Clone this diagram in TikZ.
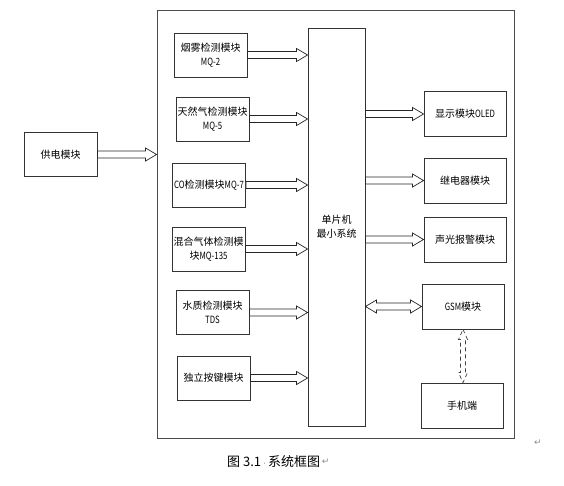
\documentclass[tikz,border=0pt]{standalone}
\usepackage{fontspec}
\newfontfamily\cjk{Noto Sans CJK SC}
\newfontfamily\cjknarrow[FakeStretch=0.78]{Noto Sans CJK SC}
\newfontfamily\markfont{DejaVu Sans}
\newcommand{\nar}[1]{{\cjknarrow #1}}
\usetikzlibrary{calc}

\begin{document}
\begin{tikzpicture}[x=1pt, y=-1pt,
    modul/.style    = {rectangle, draw=black!80, fill=white, line width=0.9pt, inner sep=0pt,
                       minimum width=73, minimum height=44, align=center,
                       font=\cjk\fontsize{10}{14}\selectfont},
    ausgabe/.style  = {modul, minimum width=82, minimum height=45},
    mcu/.style      = {modul, minimum width=57, minimum height=398},
    rahmen/.style   = {rectangle, draw=black!70, line width=0.9pt, inner sep=0pt,
                       minimum width=357, minimum height=428},
    blockpfeil/.style = {draw=black!85, fill=white, line width=0.7pt, to path={
        let \p1=(\tikztostart), \p2=(\tikztotarget) in
        (\x1,\y1+3.5pt) -- (\x2-11pt,\y1+3.5pt) -- (\x2-11pt,\y1+6.5pt) -- (\x2,\y1)
        -- (\x2-11pt,\y1-6.5pt) -- (\x2-11pt,\y1-3.5pt) -- (\x1,\y1-3.5pt) -- cycle}},
    doppelpfeil/.style = {draw=black!85, fill=white, line width=0.7pt, to path={
        let \p1=(\tikztostart), \p2=(\tikztotarget) in
        (\x1,\y1) -- (\x1+11pt,\y1+6.5pt) -- (\x1+11pt,\y1+3.5pt) -- (\x2-11pt,\y1+3.5pt)
        -- (\x2-11pt,\y1+6.5pt) -- (\x2,\y1) -- (\x2-11pt,\y1-6.5pt) -- (\x2-11pt,\y1-3.5pt)
        -- (\x1+11pt,\y1-3.5pt) -- (\x1+11pt,\y1-6.5pt) -- cycle}},
    funkpfeil/.style = {draw=black!75, line width=0.7pt, dash pattern=on 4pt off 3pt, to path={
        let \p1=(\tikztostart), \p2=(\tikztotarget) in
        (\x1,\y1) -- (\x1+4.5pt,\y1-10pt) -- (\x1+2.5pt,\y1-10pt) -- (\x1+2.5pt,\y2+10pt)
        -- (\x1+4.5pt,\y2+10pt) -- (\x1,\y2) -- (\x1-4.5pt,\y2+10pt) -- (\x1-2.5pt,\y2+10pt)
        -- (\x1-2.5pt,\y1-10pt) -- (\x1-4.5pt,\y1-10pt) -- cycle}},
    absatz/.style   = {font=\markfont\fontsize{9}{9}\selectfont, text=black!45, inner sep=0pt},
]
\useasboundingbox (0,0) rectangle (564,485);

% Systemrahmen
\node[rahmen] (sys) at (335.5,224) {};

% Stromversorgung
\node[modul] (pw) at (60.5,154.5) {供电模块};

% Sensoren links
\node[modul] (s1) at (210.5,55)  {烟雾检测模块\\\nar{MQ-2}};
\node[modul] (s2) at (212.5,119) {天然气检测模块\\\nar{MQ-5}};
\node[modul] (s3) at (209,185)   {\nar{CO}检测模块\nar{MQ-7}};
\node[modul] (s4) at (208.5,249) {混合气体检测模\\块\nar{MQ-135}};
\node[modul] (s5) at (212.5,312.5) {水质检测模块\\\nar{TDS}};
\node[modul] (s6) at (213.5,378) {独立按键模块};

% Mikrocontroller
\node[mcu] (mc) at (336.5,227) {单片机\\最小系统};

% Ausgaben rechts
\node[ausgabe] (o1) at (465,114)   {显示模块\nar{OLED}};
\node[ausgabe] (o2) at (465,180.5) {继电器模块};
\node[ausgabe] (o3) at (465,239.5) {声光报警模块};
\node[ausgabe] (gsm) at (463,306.5) {\nar{GSM}模块};
\node[ausgabe] (ph) at (462,405.5) {手机端};

% Pfeile
\draw[blockpfeil] (pw.east) to (sys.west);
\draw[blockpfeil] (s1.east) to (mc.west);
\draw[blockpfeil] (s2.east) to (mc.west);
\draw[blockpfeil] (s3.east) to (mc.west);
\draw[blockpfeil] (s4.east) to (mc.west);
\draw[blockpfeil] (s5.east) to (mc.west);
\draw[blockpfeil] (s6.east) to (mc.west);
\draw[blockpfeil] (mc.east |- o1.west) to (o1.west);
\draw[blockpfeil] (mc.east |- o2.west) to (o2.west);
\draw[blockpfeil] (mc.east |- o3.west) to (o3.west);
\draw[doppelpfeil] (mc.east |- gsm.west) to (gsm.west);
\draw[funkpfeil] (gsm.south) to (ph.north);

% Bildunterschrift
\node[anchor=west, inner sep=0pt, font=\cjk\fontsize{13}{13}\selectfont] (cap) at (227,462)
    {图 3.1\,{\markfont\fontsize{8}{8}\selectfont\color{black!50}·}\,系统框图};
\node[absatz, anchor=west] (m1) at (cap.east) {\,↵};
\node[absatz] (m2) at (538,443) {↵};

\end{tikzpicture}
\end{document}
